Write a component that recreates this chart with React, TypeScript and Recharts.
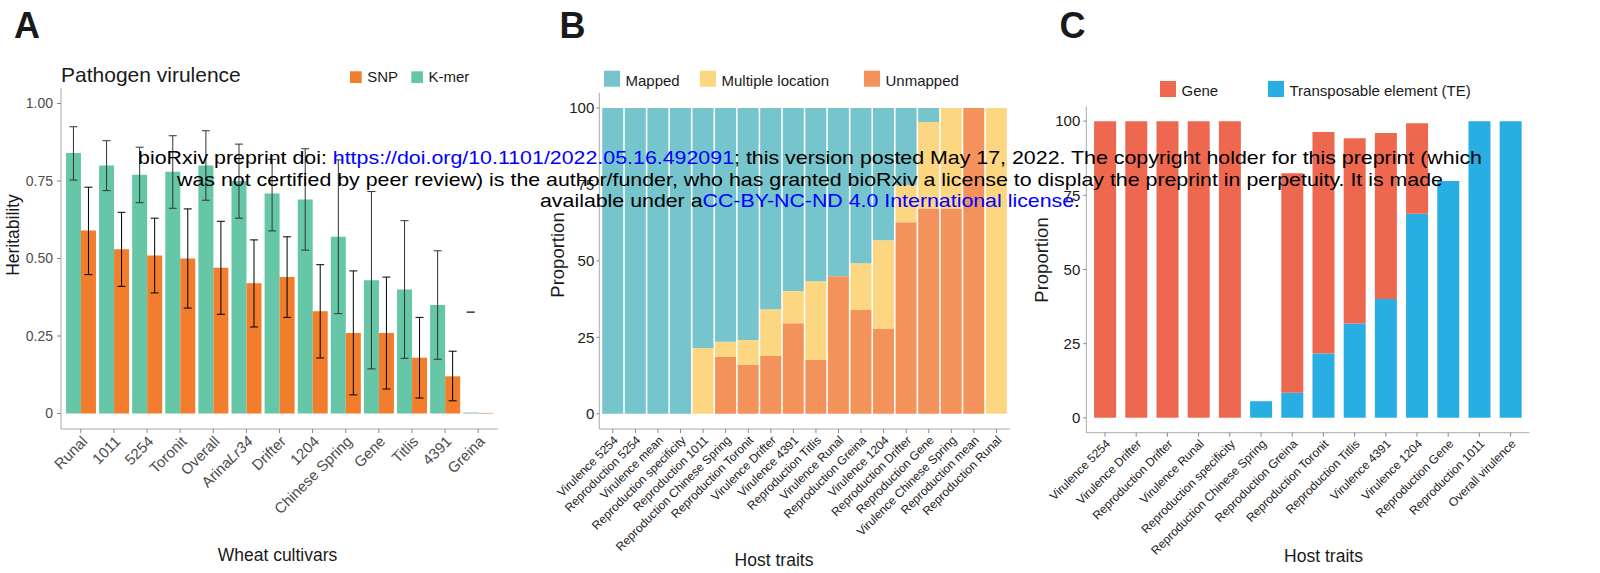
import { Bar, BarChart, ErrorBar, XAxis, YAxis } from "recharts";

// Panel A: heritability per wheat cultivar (K-mer vs SNP), with error bars.
const cultivars = ["Runal", "1011", "5254", "Toronit", "Overall", "ArinaLr34", "Drifter", "1204", "Chinese Spring", "Gene", "Titlis", "4391", "Greina"];
const kmer = [0.84, 0.8, 0.77, 0.78, 0.8, 0.75, 0.71, 0.69, 0.57, 0.43, 0.4, 0.35, 0.003];
const kmerLow = [0.753, 0.719, 0.68, 0.662, 0.688, 0.63, 0.589, 0.527, 0.322, 0.144, 0.178, 0.175, 0.327];
const kmerHigh = [0.925, 0.88, 0.859, 0.896, 0.912, 0.869, 0.82, 0.854, 0.818, 0.716, 0.622, 0.525, 0.327];
const snp = [0.59, 0.53, 0.51, 0.5, 0.47, 0.42, 0.44, 0.33, 0.26, 0.26, 0.18, 0.12, 0.002];
const snpLow = [0.448, 0.41, 0.389, 0.34, 0.32, 0.279, 0.31, 0.179, 0.06, 0.079, 0.05, 0.041, null];
const snpHigh = [0.73, 0.649, 0.63, 0.66, 0.62, 0.56, 0.57, 0.48, 0.46, 0.44, 0.31, 0.201, null];
const heritTicks = [0, 0.25, 0.5, 0.75, 1];

// Panel B: proportion of k-mers mapped / multiple location / unmapped.
const traitsB = ["Virulence 5254", "Reproduction 5254", "Virulence mean", "Reproduction specificity", "Reproduction 1011", "Reproduction Chinese Spring", "Reproduction Toronit", "Virulence Drifter", "Virulence 4391", "Reproduction Titlis", "Virulence Runal", "Reproduction Greina", "Virulence 1204", "Reproduction Drifter", "Reproduction Gene", "Virulence Chinese Spring", "Reproduction mean", "Reproduction Runal"];
const mappedB = [100, 100, 100, 100, 78.5, 76.5, 75.9, 65.8, 59.9, 56.7, 55, 50.8, 43.3, 25.3, 4.6, 0, 0, 0];
const multipleB = [0, 0, 0, 0, 21.5, 4.9, 8.1, 15.3, 10.5, 25.7, 0, 15.3, 29, 12.1, 28.3, 32.9, 0, 100];
const unmappedB = [0, 0, 0, 0, 0, 18.6, 16, 18.9, 29.6, 17.6, 45, 33.9, 27.7, 62.6, 67.1, 67.1, 100, 0];

// Panel C: gene vs transposable element hits.
const traitsC = ["Virulence 5254", "Virulence Drifter", "Reproduction Drifter", "Virulence Runal", "Reproduction specificity", "Reproduction Chinese Spring", "Reproduction Greina", "Reproduction Toronit", "Reproduction Titlis", "Virulence 4391", "Virulence 1204", "Reproduction Gene", "Reproduction 1011", "Overall virulence"];
const teC = [0, 0, 0, 0, 0, 5.6, 8.5, 21.7, 31.8, 40.1, 68.8, 79.8, 100, 100];
const geneC = [100, 100, 100, 100, 100, 0, 73.9, 74.6, 62.4, 55.9, 30.5, 0, 0, 0];
const pctTicks = [0, 25, 50, 75, 100];

const FONT = '"Liberation Sans", Arial, Helvetica, sans-serif';
const K_GREEN = "#66c6a8";
const S_ORANGE = "#f27d2c";
const MAPPED = "#76c4cc";
const MULTI = "#fcd680";
const UNMAPPED = "#f4925c";
const GENE = "#ee6850";
const TE = "#29aee3";

const dataA = cultivars.map((name, i) => ({
  name,
  kmer: kmer[i],
  snp: snp[i],
  kmerErr: [kmer[i] - kmerLow[i], kmerHigh[i] - kmer[i]],
  snpErr: snpLow[i] == null ? null : [snp[i] - (snpLow[i] as number), (snpHigh[i] as number) - snp[i]],
}));
const dataB = traitsB.map((name, i) => ({ name, mapped: mappedB[i], multiple: multipleB[i], unmapped: unmappedB[i] }));
const dataC = traitsC.map((name, i) => ({ name, te: teC[i], gene: geneC[i] }));

// ggplot-style 45° labels: the top-right corner of the text sits on the tick.
function slantTick(size: number, color: string) {
  return (props: any) => {
    const { x, y, payload } = props;
    const v = String(payload.value);
    const italic = v.endsWith("Lr34");
    return (
      <g transform={`translate(${x},${y})`}>
        <text transform="rotate(-45)" textAnchor="end" dy="0.7em" fontSize={size} fill={color} fontFamily={FONT}>
          {italic ? (
            <>
              <tspan>{v.slice(0, -4)}</tspan>
              <tspan fontStyle="italic">Lr34</tspan>
            </>
          ) : (
            v
          )}
        </text>
      </g>
    );
  };
}

// Box around the panel: top x-axis and right y-axis with no ticks.
function frame(color: string) {
  return [
    <XAxis key="top" xAxisId="top" orientation="top" dataKey="name" height={0} tick={false} tickLine={false} axisLine={{ stroke: color }} />,
    <YAxis key="right" yAxisId="right" orientation="right" width={0} tick={false} tickLine={false} axisLine={{ stroke: color }} />,
  ];
}

function PanelA() {
  return (
    <BarChart width={520} height={573} data={dataA} margin={{ top: 88, right: 22, bottom: 0, left: 0 }} barCategoryGap="5%" barGap={0}>
      <XAxis dataKey="name" height={144} padding={{ left: 3.3, right: 3.3 }} interval={0} tickSize={4} tickMargin={2} tickLine={{ stroke: "#888" }} axisLine={{ stroke: "#aaa" }} tick={slantTick(15, "#4d4d4d")} />
      <YAxis type="number" domain={[-0.05, 1.05]} ticks={heritTicks} allowDataOverflow width={61} tickSize={4} tickMargin={4} tickLine={{ stroke: "#888" }} axisLine={{ stroke: "#aaa" }} tick={{ fontSize: 14, fill: "#4d4d4d", fontFamily: FONT }} tickFormatter={(v: number) => (v === 0 ? "0" : v.toFixed(2))} />
      {frame("#555")}
      <Bar dataKey="kmer" fill={K_GREEN} isAnimationActive={false}>
        <ErrorBar dataKey="kmerErr" width={4} stroke="#333" strokeWidth={1} isAnimationActive={false} />
      </Bar>
      <Bar dataKey="snp" fill={S_ORANGE} isAnimationActive={false}>
        <ErrorBar dataKey="snpErr" width={4} stroke="#000" strokeWidth={1} isAnimationActive={false} />
      </Bar>
    </BarChart>
  );
}

function PanelB() {
  return (
    <BarChart width={500} height={573} data={dataB} margin={{ top: 92.7, right: 10, bottom: 0, left: 0 }} barCategoryGap="3%">
      <XAxis dataKey="name" height={144} padding={{ left: 2.26, right: 2.26 }} interval={0} tickSize={4} tickMargin={2} tickLine={{ stroke: "#888" }} axisLine={{ stroke: "#aaa" }} tick={slantTick(12, "#1a1a1a")} />
      <YAxis type="number" domain={[-5, 105]} ticks={pctTicks} allowDataOverflow width={79.3} tickSize={3} tickMargin={2} tickLine={{ stroke: "#888" }} axisLine={{ stroke: "#aaa" }} tick={{ fontSize: 15, fill: "#1a1a1a", fontFamily: FONT }} />
      {frame("#666")}
      <Bar dataKey="unmapped" stackId="s" fill={UNMAPPED} isAnimationActive={false} />
      <Bar dataKey="multiple" stackId="s" fill={MULTI} isAnimationActive={false} />
      <Bar dataKey="mapped" stackId="s" fill={MAPPED} isAnimationActive={false} />
    </BarChart>
  );
}

function PanelC() {
  return (
    <BarChart width={580} height={573} data={dataC} margin={{ top: 106.3, right: 70.7, bottom: 0, left: 0 }} barCategoryGap="15%">
      <XAxis dataKey="name" height={140.3} padding={{ left: 3.12, right: 3.12 }} interval={0} tickSize={4} tickMargin={2} tickLine={{ stroke: "#888" }} axisLine={{ stroke: "#aaa" }} tick={slantTick(12, "#1a1a1a")} />
      <YAxis type="number" domain={[-5, 105]} ticks={pctTicks} allowDataOverflow width={66.3} tickSize={3} tickMargin={3} tickLine={{ stroke: "#888" }} axisLine={{ stroke: "#aaa" }} tick={{ fontSize: 15, fill: "#1a1a1a", fontFamily: FONT }} />
      {frame("#444")}
      <Bar dataKey="te" stackId="s" fill={TE} isAnimationActive={false} />
      <Bar dataKey="gene" stackId="s" fill={GENE} isAnimationActive={false} />
    </BarChart>
  );
}

function Swatch({ x, y, s, color, label, fs }: { x: number; y: number; s: number; color: string; label: string; fs: number }) {
  return (
    <g>
      <rect x={x} y={y} width={s} height={s} fill={color} />
      <text x={x + s + 5.5} y={y + s - 1} fontSize={fs} fill="#1a1a1a">
        {label}
      </text>
    </g>
  );
}

function Overlay() {
  return (
    <svg width={1600} height={573} style={{ position: "absolute", left: 0, top: 0, pointerEvents: "none" }} fontFamily={FONT}>
      <text x={14} y={38} fontSize={36} fontWeight="bold" fill="#1a1a1a">A</text>
      <text x={559.5} y={38} fontSize={36} fontWeight="bold" fill="#1a1a1a">B</text>
      <text x={1059.5} y={38} fontSize={36} fontWeight="bold" fill="#1a1a1a">C</text>

      <text x={61} y={81.7} fontSize={21} fill="#1a1a1a">Pathogen virulence</text>
      <Swatch x={350} y={71.3} s={11.7} color={S_ORANGE} label="SNP" fs={15} />
      <Swatch x={411.3} y={71.3} s={11.7} color={K_GREEN} label="K-mer" fs={15} />

      <Swatch x={604} y={70.7} s={16} color={MAPPED} label="Mapped" fs={15} />
      <Swatch x={700} y={70.7} s={16} color={MULTI} label="Multiple location" fs={15} />
      <Swatch x={864} y={70.7} s={16} color={UNMAPPED} label="Unmapped" fs={15} />

      <Swatch x={1160} y={81} s={16} color={GENE} label="Gene" fs={15} />
      <Swatch x={1268} y={81} s={16} color={TE} label="Transposable element (TE)" fs={15} />

      <text transform="translate(19,235) rotate(-90)" textAnchor="middle" fontSize={17.5} fill="#1a1a1a">Heritability</text>
      <text transform="translate(564,255) rotate(-90)" textAnchor="middle" fontSize={18.5} fill="#1a1a1a">Proportion</text>
      <text transform="translate(1048,260) rotate(-90)" textAnchor="middle" fontSize={18.5} fill="#1a1a1a">Proportion</text>

      <text x={277.5} y={561} textAnchor="middle" fontSize={17.5} fill="#1a1a1a">Wheat cultivars</text>
      <text x={774} y={566} textAnchor="middle" fontSize={17.5} fill="#1a1a1a">Host traits</text>
      <text x={1323.5} y={562} textAnchor="middle" fontSize={17.5} fill="#1a1a1a">Host traits</text>

      <text x={810} y={164} textAnchor="middle" fontSize={18.5} fill="#000" textLength={1344} lengthAdjust="spacingAndGlyphs">
        bioRxiv preprint doi: <tspan fill="#0000ff">https://doi.org/10.1101/2022.05.16.492091</tspan>; this version posted May 17, 2022. The copyright holder for this preprint (which
      </text>
      <text x={810} y={185.5} textAnchor="middle" fontSize={18.5} fill="#000" textLength={1266} lengthAdjust="spacingAndGlyphs">
        was not certified by peer review) is the author/funder, who has granted bioRxiv a license to display the preprint in perpetuity. It is made
      </text>
      <text x={810} y={207} textAnchor="middle" fontSize={18.5} fill="#000" textLength={540} lengthAdjust="spacingAndGlyphs">
        available under a<tspan fill="#0000ff">CC-BY-NC-ND 4.0 International license</tspan>.
      </text>
    </svg>
  );
}

export default function App() {
  return (
    <div style={{ position: "absolute", left: 0, top: 0, width: 1600, height: 573, background: "#fff", fontFamily: FONT, overflow: "hidden" }}>
      <div style={{ position: "absolute", left: 0, top: 0 }}>
        <PanelA />
      </div>
      <div style={{ position: "absolute", left: 520, top: 0 }}>
        <PanelB />
      </div>
      <div style={{ position: "absolute", left: 1020, top: 0 }}>
        <PanelC />
      </div>
      <Overlay />
    </div>
  );
}
